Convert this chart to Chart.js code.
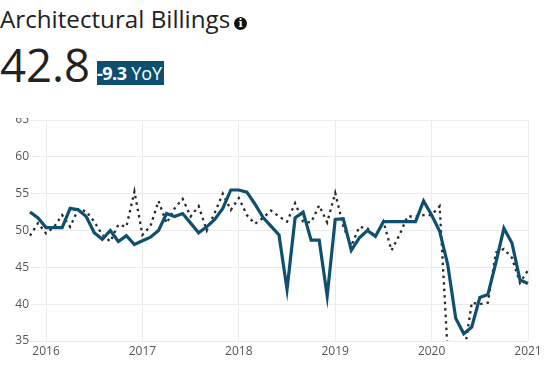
<!DOCTYPE html>
<html>
<head>
<meta charset="utf-8">
<script src="https://cdn.jsdelivr.net/npm/chart.js@4"></script>
<style>
html,body{margin:0;padding:0;background:#fff;width:560px;height:371px;overflow:hidden;font-family:"Open Sans",sans-serif}
.t{position:absolute;white-space:nowrap;color:#222}
#title{left:0;top:2px;font-size:24.2px;line-height:34px}
#info{position:absolute;left:234px;top:17px;width:13px;height:13px;border-radius:50%;background:#111;color:#fff;font:bold 11px/13px "DejaVu Serif",serif;text-align:center}
#val{left:0;top:33px;font-size:45.5px;line-height:62px}
#badge{position:absolute;left:97px;top:61px;width:67px;height:24px;background:#0d4f6e;color:#fff;font-size:18px;line-height:24px;white-space:nowrap;overflow:hidden}
#badge b{font-weight:700;letter-spacing:-0.5px}
#wrap{position:absolute;left:0;top:118px;width:560px;height:253px;overflow:hidden}
canvas{position:absolute;left:0;top:-12px}
</style>
</head>
<body>
<div id="title" class="t">Architectural Billings</div><div id="info">i</div>
<div id="val" class="t">42.8</div>
<div id="badge"><b>-9.3</b> YoY</div>
<div id="wrap"><canvas id="c" width="560" height="265"></canvas></div>
<script>
const startYear = 2015, startMonth = 11;
const yTicks = [35,40,45,50,55,60,65];
const billings = [52.5,51.7,50.4,50.4,50.4,53.0,52.8,51.9,49.7,48.8,50.0,48.5,49.3,48.1,48.6,49.1,50.0,52.3,51.9,52.3,51.0,49.7,50.5,51.5,53.0,55.5,55.5,55.2,53.6,51.8,50.6,49.4,42.0,51.7,52.5,48.7,48.7,41.1,51.5,51.6,47.3,49.0,50.0,49.2,51.2,51.2,51.2,51.2,51.2,54.0,52.1,49.9,45.4,38.1,36.0,36.9,40.9,41.3,45.6,50.3,48.3,43.3,42.8];
const comparison = [49.3,51.0,49.6,50.5,52.1,50.5,52.9,52.6,51.2,49.4,48.5,50.8,50.5,55.3,49.4,50.6,54.0,51.0,53.0,54.3,51.9,53.3,50.0,52.4,55.0,52.8,54.4,52.1,50.9,51.7,52.7,51.9,51.2,53.7,51.2,51.1,53.4,51.1,55.1,50.6,47.9,50.5,50.3,49.2,51.2,47.3,49.4,51.9,51.9,52.1,52.1,53.3,33.5,31.0,33.0,40.2,40.0,40.2,47.0,47.5,46.3,42.9,44.6];
const categories = billings.map((_, i) => {
  const m = startMonth - 1 + i;
  return (startYear + Math.floor(m / 12)) + '-' + String(m % 12 + 1).padStart(2, '0');
});
new Chart(document.getElementById('c'), {
  type: 'line',
  data: {
    labels: categories,
    datasets: [
      {data: billings, borderColor: '#0f4f6f', borderWidth: 3.2, pointRadius: 0, tension: 0, borderJoinStyle: 'miter'},
      {data: comparison, borderColor: '#2a2a2a', borderWidth: 2.3, borderDash: [2.5, 4], pointRadius: 0, tension: 0}
    ]
  },
  options: {
    responsive: false,
    animation: false,
    plugins: {legend: {display: false}, tooltip: {enabled: false}},
    layout: {padding: {top: 14, right: 32, bottom: 0, left: 0}},
    scales: {
      x: {
        offset: false,
        grid: {color: '#ebebeb', lineWidth: 1, drawTicks: false},
        border: {display: false},
        afterBuildTicks: s => { s.ticks = s.ticks.filter(t => categories[t.value].endsWith('-01')); },
        ticks: {autoSkip: false, maxRotation: 0, padding: 3, color: '#555', font: {family: '"Open Sans"', size: 12},
          callback: v => categories[v].slice(0, 4)},
        afterFit: s => { s.height = 30; }
      },
      y: {
        min: 35, max: 65,
        grid: {color: '#ebebeb', lineWidth: 1, drawTicks: false},
        border: {display: false},
        afterBuildTicks: s => { s.ticks = yTicks.map(v => ({value: v})); },
        ticks: {padding: 1, color: '#555', font: {family: '"Open Sans"', size: 12}},
        afterFit: s => { s.width = 30; }
      }
    }
  }
});
</script>
</body>
</html>
